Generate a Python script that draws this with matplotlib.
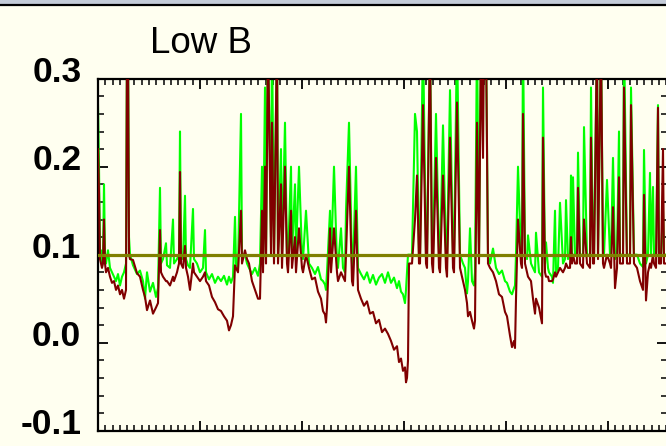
import numpy as np
import matplotlib
matplotlib.use("Agg")
import matplotlib.pyplot as plt
from matplotlib.ticker import MultipleLocator
from matplotlib.patches import Rectangle
from matplotlib.lines import Line2D
from matplotlib.transforms import ScaledTranslation
from matplotlib import font_manager

# sample positions (time index) and the two series
t = [0, 1, 2, 3, 4, 5, 6, 7, 8, 10, 12, 14, 16, 18, 20, 22, 24, 26, 28, 29, 30, 31, 32,
     35, 39, 42, 45, 47, 49, 52, 55, 58, 60,
     62, 63, 65, 68, 69, 72, 75, 76, 79, 81, 82, 83, 85, 87, 88, 90, 92, 95, 96, 99, 102,
     105, 107, 108, 111, 114, 117, 120, 123, 126, 129, 131, 133, 135, 137, 138, 140, 143,
     144, 147, 149, 151, 154, 157, 160, 162, 164, 165, 167, 168, 170, 173, 174, 176, 179,
     180, 183, 184, 187, 189, 190, 193, 194, 197, 198, 201, 204, 205, 208, 211, 214, 217,
     220, 223, 225, 227, 228, 229, 232, 233, 236, 239, 240, 243, 245, 247, 248, 251, 254,
     255, 258, 260, 263, 266, 269, 272, 275, 278, 281, 284, 287, 290, 293, 296, 299, 301,
     303, 305, 307, 308, 309, 310, 311, 314, 317, 319, 321, 322, 325, 328, 329, 332, 334,
     335, 338, 341, 342, 345, 348, 349, 352, 355, 356, 359, 362, 365, 367, 369, 370, 372,
     374, 376, 377, 379, 381, 383, 385, 386, 388, 390, 392, 395, 398, 401, 404, 407, 409,
     412, 414, 416, 417, 418, 420, 423, 424, 425, 427, 429, 430, 433, 435, 437, 438, 441,
     444, 445, 447, 448, 450, 451, 454, 455, 457, 458, 460, 462, 465, 467, 468, 470, 472,
     473, 474, 475, 477, 479, 480, 482, 485, 486, 489, 492, 493, 495, 496, 499, 500, 503,
     505, 506, 509, 512, 513, 515, 517, 519, 521, 522, 525, 526, 529, 532, 533, 536, 539,
     542, 545, 546, 548, 550, 552, 553, 555, 556, 558, 560, 561, 563, 565, 566, 568]

green = [0.27, 0.20, 0.10, 0.105, 0.09, 0.095, 0.18, 0.10, 0.09, 0.105, 0.085, 0.08, 0.075,
         0.07, 0.078, 0.065, 0.075, 0.08, 0.09, 0.35, 0.35, 0.12, 0.10,
         0.088, 0.078, 0.082, 0.07, 0.05, 0.08, 0.058, 0.068, 0.052, 0.062,
         0.176, 0.09, 0.095, 0.113, 0.088, 0.085, 0.14, 0.09, 0.095, 0.10, 0.24, 0.10, 0.095,
         0.167, 0.095, 0.088, 0.085, 0.152, 0.095, 0.09, 0.08,
         0.085, 0.128, 0.08, 0.072, 0.078, 0.068, 0.075, 0.07, 0.076, 0.066, 0.075, 0.068,
         0.075, 0.143, 0.09, 0.085, 0.26,
         0.10, 0.10, 0.09, 0.085, 0.078, 0.085, 0.076, 0.09, 0.20, 0.09, 0.29, 0.10, 0.35,
         0.12, 0.35, 0.10, 0.35, 0.10, 0.22, 0.10, 0.25, 0.10, 0.095, 0.20, 0.10, 0.18,
         0.10, 0.20, 0.10, 0.095, 0.15, 0.09, 0.085, 0.078, 0.086, 0.072,
         0.07, 0.066, 0.06, 0.08, 0.15, 0.09, 0.20, 0.09, 0.085, 0.13, 0.085, 0.08,
         0.15, 0.25, 0.09, 0.085, 0.20, 0.085, 0.078,
         0.072, 0.08, 0.068, 0.077, 0.066, 0.074, 0.078, 0.068, 0.08, 0.068, 0.074, 0.062,
         0.07, 0.058, 0.055,
         0.045, 0.06, 0.08, 0.10, 0.10, 0.10, 0.26, 0.24, 0.10, 0.10, 0.35, 0.10, 0.10,
         0.35, 0.10, 0.10, 0.26, 0.10, 0.095, 0.247, 0.10, 0.095, 0.287, 0.10, 0.095,
         0.35, 0.10, 0.09, 0.085, 0.056, 0.07, 0.13, 0.07, 0.065,
         0.08, 0.35, 0.10, 0.35, 0.35, 0.35, 0.35, 0.10, 0.09, 0.107, 0.085, 0.078,
         0.082, 0.07, 0.068, 0.058, 0.055, 0.062,
         0.065, 0.10, 0.20, 0.10, 0.095, 0.35, 0.10, 0.095, 0.122, 0.09, 0.085, 0.08,
         0.125, 0.08, 0.075, 0.29, 0.09, 0.114, 0.085, 0.08, 0.075, 0.068, 0.15, 0.08,
         0.085, 0.159, 0.09, 0.095, 0.162, 0.095, 0.10, 0.19, 0.10, 0.188, 0.10, 0.10,
         0.216, 0.10, 0.10, 0.245, 0.10, 0.10, 0.29, 0.10, 0.10, 0.35, 0.10, 0.35, 0.10,
         0.10, 0.185, 0.10, 0.10, 0.21, 0.095, 0.10, 0.24, 0.10, 0.10, 0.35, 0.10, 0.10,
         0.29, 0.10, 0.10, 0.09, 0.086, 0.219, 0.09, 0.10, 0.193, 0.10, 0.177, 0.10, 0.10,
         0.27, 0.10, 0.10, 0.15, 0.10, 0.10]

red = [0.22, 0.17, 0.095, 0.09, 0.085, 0.09, 0.14, 0.09, 0.08, 0.085, 0.075, 0.068, 0.07,
       0.06, 0.065, 0.055, 0.06, 0.05, 0.06, 0.35, 0.35, 0.10, 0.095,
       0.094, 0.079, 0.075, 0.06, 0.052, 0.037, 0.048, 0.033, 0.04, 0.045,
       0.128, 0.08, 0.075, 0.07, 0.07, 0.065, 0.075, 0.07, 0.08, 0.09, 0.194, 0.09, 0.085,
       0.11, 0.085, 0.075, 0.06, 0.09, 0.08, 0.075, 0.07,
       0.075, 0.08, 0.07, 0.065, 0.052, 0.046, 0.038, 0.036, 0.03, 0.025, 0.014, 0.02,
       0.03, 0.088, 0.085, 0.08, 0.15,
       0.09, 0.105, 0.095, 0.09, 0.07, 0.06, 0.05, 0.05, 0.15, 0.08, 0.20, 0.09, 0.35,
       0.10, 0.25, 0.09, 0.35, 0.09, 0.18, 0.085, 0.20, 0.09, 0.08, 0.15, 0.085, 0.12,
       0.08, 0.13, 0.085, 0.08, 0.10, 0.085, 0.072, 0.074, 0.058, 0.05,
       0.036, 0.032, 0.023, 0.04, 0.13, 0.08, 0.13, 0.08, 0.07, 0.08, 0.075, 0.07,
       0.10, 0.20, 0.07, 0.065, 0.15, 0.06, 0.05,
       0.042, 0.047, 0.033, 0.035, 0.022, 0.026, 0.012, 0.016, 0.01, 0.002, -0.008, -0.004,
       -0.022, -0.018, -0.032,
       -0.028, -0.045, -0.04, -0.02, 0.09, 0.09, 0.14, 0.19, 0.09, 0.09, 0.27, 0.09, 0.085,
       0.35, 0.09, 0.08, 0.21, 0.085, 0.08, 0.19, 0.085, 0.075, 0.233, 0.085, 0.08,
       0.273, 0.085, 0.07, 0.06, 0.045, 0.03, 0.035, 0.025, 0.016,
       0.025, 0.25, 0.09, 0.35, 0.21, 0.35, 0.35, 0.09, 0.085, 0.08, 0.07, 0.055,
       0.052, 0.035, 0.03, 0.008, -0.005, 0.002,
       -0.006, 0.05, 0.14, 0.09, 0.085, 0.26, 0.09, 0.08, 0.075, 0.07, 0.05, 0.033,
       0.05, 0.04, 0.022, 0.233, 0.08, 0.075, 0.075, 0.07, 0.07, 0.072, 0.08, 0.075,
       0.08, 0.085, 0.08, 0.085, 0.09, 0.085, 0.085, 0.12, 0.09, 0.10, 0.09, 0.09,
       0.176, 0.09, 0.085, 0.14, 0.09, 0.085, 0.233, 0.09, 0.09, 0.35, 0.095, 0.35, 0.09,
       0.085, 0.10, 0.09, 0.085, 0.154, 0.062, 0.085, 0.188, 0.09, 0.09, 0.29, 0.09, 0.09,
       0.27, 0.09, 0.085, 0.07, 0.06, 0.168, 0.048, 0.08, 0.09, 0.085, 0.10, 0.09, 0.085,
       0.267, 0.09, 0.09, 0.22, 0.09, 0.09]

reference_level = 0.1
title_text = "Low B"
ytick_values = [-0.1, 0.0, 0.1, 0.2, 0.3]
ytick_labels = ["-0.1", "0.0", "0.1", "0.2", "0.3"]

installed = {f.name for f in font_manager.fontManager.ttflist}
narrow = [n for n in ("Liberation Sans Narrow", "Arial Narrow") if n in installed]
if narrow:
    title_family, title_size = [narrow[0], "DejaVu Sans"], 29.5
else:
    title_family, title_size = ["Liberation Sans", "DejaVu Sans"], 26.5

W, H = 666, 446
fig = plt.figure(figsize=(W / 100, H / 100), dpi=100, facecolor="#FFFFF0")

# top strip
fig.patches.append(Rectangle((0, 1 - 3.5 / H), 1, 3.5 / H, transform=fig.transFigure,
                             facecolor="#C4CCD8", edgecolor="none"))
fig.lines.append(Line2D([0, 1], [1 - 4.5 / H, 1 - 4.5 / H], transform=fig.transFigure,
                        color="black", lw=1.6))

ax = fig.add_axes([98 / W, (H - 430.7) / H, (667.5 - 98) / W, (430.7 - 78.7) / H])
ax.set_facecolor("#FFFFF0")

ax.plot(t, green, color="#00FF00", lw=1.5, zorder=2)
ax.plot(t, red, color="#800000", lw=1.5, zorder=3)
ax.axhline(reference_level, color="#808000", lw=2.3, zorder=4)

ax.set_xlim(0, 569.5)
ax.set_ylim(-0.1, 0.3)

for s in ax.spines.values():
    s.set_linewidth(1.6)
    s.set_color("black")

ax.xaxis.set_major_locator(MultipleLocator(102))
ax.xaxis.set_minor_locator(MultipleLocator(102 / 14))
ax.yaxis.set_major_locator(MultipleLocator(0.1))
ax.yaxis.set_minor_locator(MultipleLocator(0.02))
ax.tick_params(axis="both", which="both", direction="in", top=True, right=True,
               labelbottom=False, colors="black")
ax.tick_params(axis="both", which="major", length=7, width=1.3)
ax.tick_params(axis="both", which="minor", length=4.5, width=1.1)
ax.set_yticks(ytick_values)
ax.set_yticklabels(ytick_labels, fontsize=25.5, fontweight="bold",
                   family=["Liberation Sans", "DejaVu Sans"])
ax.tick_params(axis="y", which="major", pad=12)
shift = ScaledTranslation(0, -3.5 / 100, fig.dpi_scale_trans)
for lab in ax.get_yticklabels():
    lab.set_verticalalignment("baseline")
    lab.set_transform(lab.get_transform() + shift)

fig.text(201 / W, (H - 53) / H, title_text, ha="center", va="baseline",
         fontsize=title_size, family=title_family)

fig.savefig("out.png", dpi=100, facecolor=fig.get_facecolor())
